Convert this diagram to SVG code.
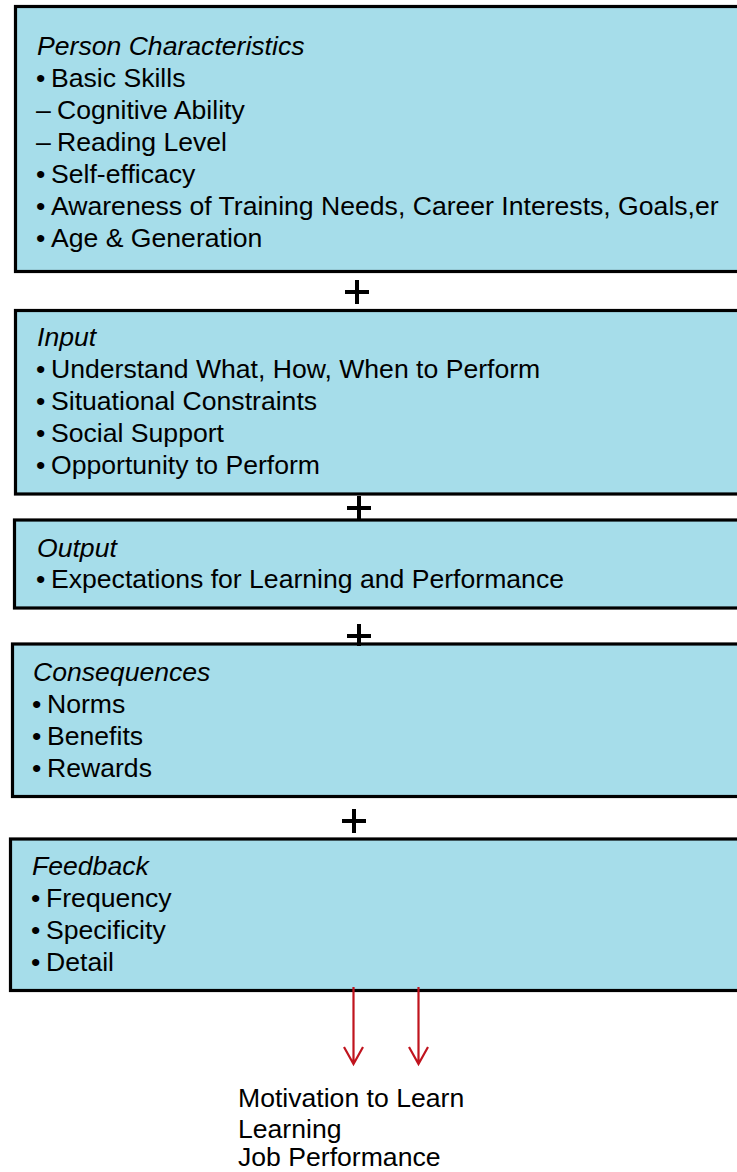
<svg xmlns="http://www.w3.org/2000/svg" width="737" height="1172" viewBox="0 0 737 1172">
  <style>
    .box { fill: #A6DDEA; stroke: #000; stroke-width: 3.2; }
    .t { font-family: "Liberation Sans", Arial, sans-serif; font-size: 26.6px; fill: #000; }
    .ti { font-style: italic; }
    .plus { stroke: #000; stroke-width: 4; fill: none; }
    .arrow { stroke: #C0141E; stroke-width: 2.2; fill: none; }
  </style>
  <rect width="737" height="1172" fill="#fff"/>

  <g id="person">
    <rect class="box" x="15.5" y="6.5" width="740" height="265"/>
    <text class="t ti" x="37" y="54.5">Person Characteristics</text>
    <text class="t" y="86.5"><tspan x="36">•</tspan><tspan x="51">Basic Skills</tspan></text>
    <text class="t" y="118.5"><tspan x="36">–</tspan><tspan x="57">Cognitive Ability</tspan></text>
    <text class="t" y="150.5"><tspan x="36">–</tspan><tspan x="57">Reading Level</tspan></text>
    <text class="t" y="182.5"><tspan x="36">•</tspan><tspan x="51">Self-efficacy</tspan></text>
    <text class="t" y="214.5"><tspan x="36">•</tspan><tspan x="51">Awareness of Training Needs, Career Interests, Goals,er</tspan></text>
    <text class="t" y="246.5"><tspan x="36">•</tspan><tspan x="51">Age &amp; Generation</tspan></text>
  </g>

  <g id="input">
    <rect class="box" x="15.5" y="310.5" width="740" height="183.5"/>
    <text class="t ti" x="37" y="346">Input</text>
    <text class="t" y="378"><tspan x="36">•</tspan><tspan x="51">Understand What, How, When to Perform</tspan></text>
    <text class="t" y="410"><tspan x="36">•</tspan><tspan x="51">Situational Constraints</tspan></text>
    <text class="t" y="442"><tspan x="36">•</tspan><tspan x="51">Social Support</tspan></text>
    <text class="t" y="474"><tspan x="36">•</tspan><tspan x="51">Opportunity to Perform</tspan></text>
  </g>

  <g id="output">
    <rect class="box" x="14.5" y="520" width="740" height="88"/>
    <text class="t ti" x="37" y="557">Output</text>
    <text class="t" y="588"><tspan x="36">•</tspan><tspan x="51">Expectations for Learning and Performance</tspan></text>
  </g>

  <g id="consequences">
    <rect class="box" x="12.5" y="644" width="740" height="152.5"/>
    <text class="t ti" x="33" y="681">Consequences</text>
    <text class="t" y="713"><tspan x="32">•</tspan><tspan x="47">Norms</tspan></text>
    <text class="t" y="745"><tspan x="32">•</tspan><tspan x="47">Benefits</tspan></text>
    <text class="t" y="777"><tspan x="32">•</tspan><tspan x="47">Rewards</tspan></text>
  </g>

  <g id="feedback">
    <rect class="box" x="10.5" y="839" width="740" height="151.5"/>
    <text class="t ti" x="32" y="875">Feedback</text>
    <text class="t" y="907"><tspan x="31">•</tspan><tspan x="46">Frequency</tspan></text>
    <text class="t" y="939"><tspan x="31">•</tspan><tspan x="46">Specificity</tspan></text>
    <text class="t" y="971"><tspan x="31">•</tspan><tspan x="46">Detail</tspan></text>
  </g>

  <g id="connectors">
    <!-- plus signs joining the stacked factors -->
    <path class="plus" d="M345 292H369M357 280V304"/>
    <path class="plus" d="M347 508H371M359 496V520"/>
    <path class="plus" d="M347 636H371M359 624V646"/>
    <path class="plus" d="M342 821H366M354 809V833"/>
    <!-- outcome arrows -->
    <path class="arrow" d="M353.5 987V1064M344 1047L353.5 1064L363 1047"/>
    <path class="arrow" d="M418.5 987V1064M409 1047L418.5 1064L428 1047"/>
  </g>

  <g id="outcomes">
    <text class="t" x="238" y="1107">Motivation to Learn</text>
    <text class="t" x="238" y="1138">Learning</text>
    <text class="t" x="238" y="1166">Job Performance</text>
  </g>
</svg>
